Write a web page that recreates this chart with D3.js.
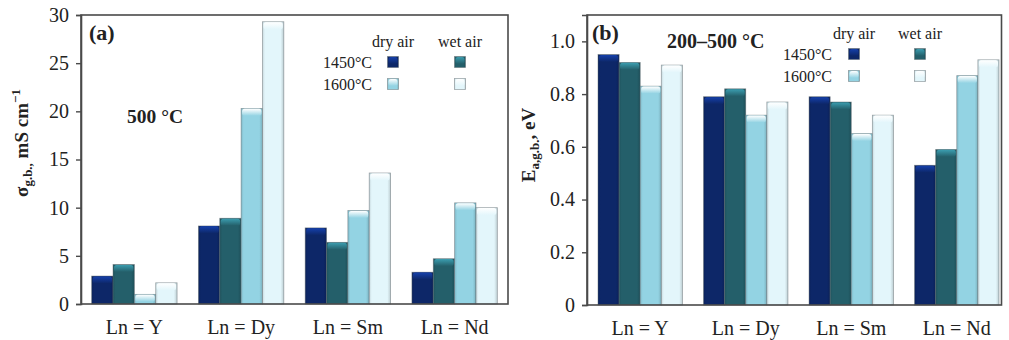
<!DOCTYPE html>
<html>
<head>
<meta charset="utf-8">
<script src="https://cdn.jsdelivr.net/npm/d3@7"></script>
<style>
  html, body { margin: 0; padding: 0; background: #fff; }
  svg { display: block; }
  text { font-family: "Liberation Serif", "DejaVu Serif", serif; fill: #222; }
</style>
</head>
<body>
<svg id="chart" width="1009" height="340"></svg>
<script>
// ---- data ----
const categories = ["Ln = Y", "Ln = Dy", "Ln = Sm", "Ln = Nd"];
const seriesNames = ["1450 dry", "1450 wet", "1600 dry", "1600 wet"];
const seriesColors = ["#0d2768", "#245f6a", "#93d3e3", "#e3f6fb"];
const sigma1450Dry = [2.9, 8.1, 7.9, 3.3];
const sigma1450Wet = [4.1, 8.9, 6.4, 4.7];
const sigma1600Dry = [1.0, 20.3, 9.7, 10.5];
const sigma1600Wet = [2.2, 29.3, 13.6, 10.0];
const ea1450Dry = [0.95, 0.79, 0.79, 0.53];
const ea1450Wet = [0.92, 0.82, 0.77, 0.59];
const ea1600Dry = [0.83, 0.72, 0.65, 0.87];
const ea1600Wet = [0.91, 0.77, 0.72, 0.93];
const sigmaTicks = [0, 5, 10, 15, 20, 25, 30];
const eaTicks = [0, 0.2, 0.4, 0.6, 0.8, 1.0];
const legendCols = ["dry air", "wet air"];
const legendRows = ["1450°C", "1600°C"];

const svg = d3.select("#chart");
const defs = svg.append("defs");

// gradients for 3D-like bars
seriesColors.forEach((c, i) => {
  const base = d3.color(c);
  const g = defs.append("linearGradient").attr("id", "side" + i)
    .attr("x1", "0").attr("x2", "1").attr("y1", "0").attr("y2", "0");
  g.append("stop").attr("offset", "0%").attr("stop-color", base.darker(0.35));
  g.append("stop").attr("offset", "12%").attr("stop-color", base);
  g.append("stop").attr("offset", "85%").attr("stop-color", base);
  g.append("stop").attr("offset", "100%").attr("stop-color", base.darker(0.5));
  const t = defs.append("linearGradient").attr("id", "top" + i)
    .attr("x1", "0").attr("x2", "0").attr("y1", "0").attr("y2", "1");
  t.append("stop").attr("offset", "0%").attr("stop-color", i < 2 ? base.brighter(1.4) : "#ffffff");
  t.append("stop").attr("offset", "100%").attr("stop-color", base);
});

function drawBar(g, x, y, w, h, i) {
  g.append("rect").attr("x", x).attr("y", y).attr("width", w).attr("height", h)
    .attr("fill", `url(#side${i})`)
    .attr("stroke", "rgba(90,100,105,0.55)").attr("stroke-width", 0.8);
  const cap = Math.min(7, h);
  g.append("rect").attr("x", x + 1).attr("y", y + 0.4).attr("width", w - 2).attr("height", cap)
    .attr("rx", 2.5).attr("fill", `url(#top${i})`);
}

function panel(opts) {
  const { left, right, top, bottom, bandLeft, bandRight, yMax, ticks, tickFmt, series } = opts;
  const g = svg.append("g");
  const x = d3.scaleBand().domain(categories).range([bandLeft, bandRight])
    .paddingInner(0.2).paddingOuter(opts.padOuter);
  const xs = d3.scaleBand().domain(seriesNames).range([0, x.bandwidth()]);
  const y = d3.scaleLinear().domain([0, yMax]).range([bottom, top]);

  // bars
  categories.forEach((cat, ci) => {
    series.forEach((arr, si) => {
      const v = arr[ci];
      drawBar(g, x(cat) + xs(seriesNames[si]), y(v), xs.bandwidth(), y(0) - y(v), si);
    });
  });

  // frame
  g.append("rect").attr("x", left).attr("y", top).attr("width", right - left).attr("height", bottom - top)
    .attr("fill", "none").attr("stroke", "#4a4a4a").attr("stroke-width", 1.6);

  // y axis
  const ya = d3.axisLeft(y).tickValues(ticks).tickFormat(tickFmt).tickSize(5).tickPadding(7);
  const ag = g.append("g").attr("transform", `translate(${left},0)`).call(ya);
  ag.select(".domain").attr("stroke", "#4a4a4a").attr("stroke-width", 1.6);
  ag.selectAll(".tick line").attr("stroke", "#4a4a4a").attr("stroke-width", 1.4);
  ag.selectAll(".tick text").attr("font-size", 20).attr("font-family", "Liberation Serif").attr("fill", "#333");

  // x labels
  const xa = d3.axisBottom(x).tickSize(0).tickPadding(16);
  const xg = g.append("g").attr("transform", `translate(0,${bottom})`).call(xa);
  xg.select(".domain").remove();
  xg.selectAll(".tick text").attr("font-size", 20).attr("font-family", "Liberation Serif").attr("fill", "#222");

  return { g, x, y };
}

function legend(g, colX, labelRight, rowY, headY) {
  legendCols.forEach((c, i) => {
    g.append("text").attr("x", colX[i]).attr("y", headY).attr("text-anchor", "middle")
      .attr("font-size", 16).text(c);
  });
  legendRows.forEach((r, ri) => {
    g.append("text").attr("x", labelRight).attr("y", rowY[ri] + 6).attr("text-anchor", "end")
      .attr("font-size", 16).text(r);
    legendCols.forEach((c, ci) => {
      const si = ri * 2 + ci;
      drawBar(g, colX[ci] - 5.5, rowY[ri] - 5.5, 11, 11, si);
    });
  });
}

// ---- panel (a) ----
const pa = panel({
  left: 81, right: 508, top: 15, bottom: 304,
  bandLeft: 81, bandRight: 508, padOuter: 0.1,
  yMax: 30, ticks: sigmaTicks, tickFmt: d3.format("d"),
  series: [sigma1450Dry, sigma1450Wet, sigma1600Dry, sigma1600Wet]
});
pa.g.append("text").attr("x", 89).attr("y", 40).attr("font-size", 22).attr("font-weight", "bold").text("(a)");
pa.g.append("text").attr("x", 127).attr("y", 123).attr("font-size", 19.5).attr("font-weight", "bold").text("500 °C");
legend(pa.g, [393, 460], 372, [62, 84], 47);

const la = svg.append("text").attr("transform", "translate(28,143) rotate(-90)")
  .attr("text-anchor", "middle").attr("font-size", 19).attr("font-weight", "bold");
la.append("tspan").text("σ");
la.append("tspan").attr("font-size", 13).attr("dy", 4).text("g.b.,");
la.append("tspan").attr("dy", -4).text(" mS cm");
la.append("tspan").attr("font-size", 13).attr("dy", -8).text("−1");

// ---- panel (b) ----
const pb = panel({
  left: 587, right: 1001.5, top: 15, bottom: 305,
  bandLeft: 598, bandRight: 999, padOuter: 0,
  yMax: 1.1, ticks: eaTicks, tickFmt: d => d === 0 ? "0" : d3.format(".1f")(d),
  series: [ea1450Dry, ea1450Wet, ea1600Dry, ea1600Wet]
});
pb.g.append("text").attr("x", 592).attr("y", 40).attr("font-size", 22).attr("font-weight", "bold").text("(b)");
pb.g.append("text").attr("x", 667).attr("y", 48).attr("font-size", 20).attr("font-weight", "bold").text("200–500 °C");
legend(pb.g, [854, 920], 832, [54, 76], 39);

const lb = svg.append("text").attr("transform", "translate(535,145) rotate(-90)")
  .attr("text-anchor", "middle").attr("font-size", 19).attr("font-weight", "bold");
lb.append("tspan").text("E");
lb.append("tspan").attr("font-size", 13).attr("dy", 4).text("a,g.b.");
lb.append("tspan").attr("dy", -4).text(", eV");
</script>
</body>
</html>
